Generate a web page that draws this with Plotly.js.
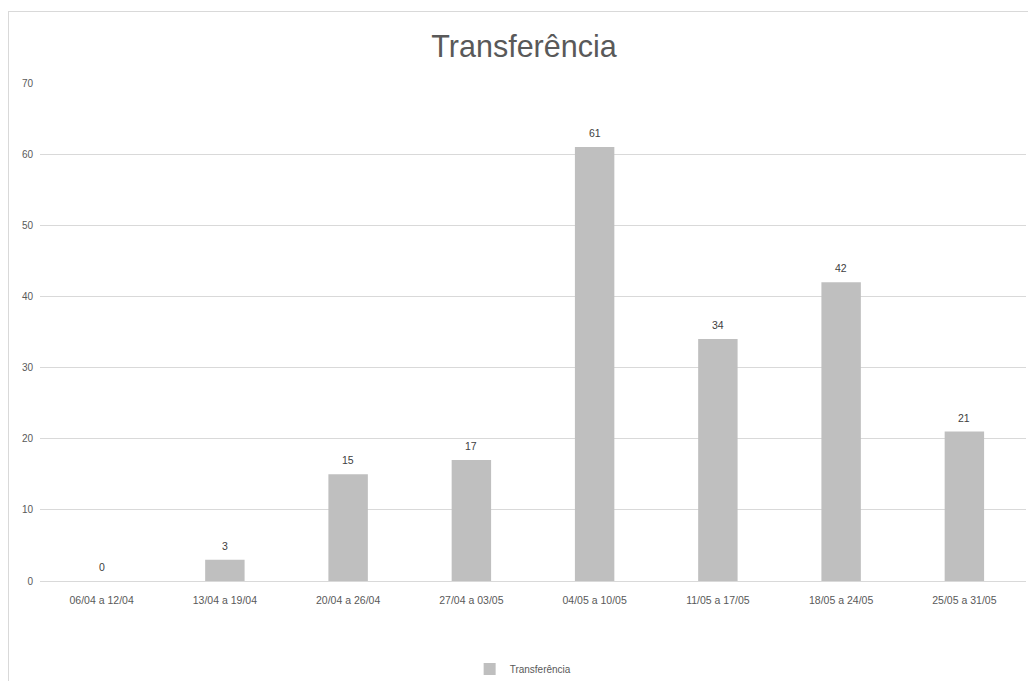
<!DOCTYPE html>
<html>
<head>
<meta charset="utf-8">
<script src="https://cdn.plot.ly/plotly-3.0.1.min.js"></script>
<style>
  html, body { margin: 0; padding: 0; background: #fff; }
  #chart { width: 1028px; height: 681px; }
  #frame {
    position: absolute; left: 8px; top: 11px; width: 1030px; height: 680px;
    border: 1px solid #d9d9d9; pointer-events: none;
  }
</style>
</head>
<body>
<div id="chart"></div>
<div id="frame"></div>
<script>
// Weekly counts of transfers
const semanas = [
  "06/04 a 12/04", "13/04 a 19/04", "20/04 a 26/04", "27/04 a 03/05",
  "04/05 a 10/05", "11/05 a 17/05", "18/05 a 24/05", "25/05 a 31/05"
];
const transferencias = [0, 3, 15, 17, 61, 34, 42, 21];
const nomeSerie = "Transferência";
const yTicks = [0, 10, 20, 30, 40, 50, 60, 70];

const fonte = "'Liberation Sans', Arial, sans-serif";

const trace = {
  type: "bar",
  x: semanas,
  y: transferencias,
  name: nomeSerie,
  marker: { color: "#bfbfbf" },
  hoverinfo: "x+y"
};

// value labels sitting above each bar
const rotulos = semanas.map((s, i) => ({
  x: s,
  y: transferencias[i],
  xref: "x",
  yref: "y",
  text: String(transferencias[i]),
  showarrow: false,
  yanchor: "middle",
  yshift: 14,
  font: { family: fonte, size: 10.5, color: "#404040" }
}));

const layout = {
  width: 1028,
  height: 681,
  margin: { l: 40, r: 2, t: 83, b: 100 },
  paper_bgcolor: "#ffffff",
  plot_bgcolor: "#ffffff",
  font: { family: fonte, color: "#595959", size: 11 },
  title: {
    text: "Transferência",
    font: { family: fonte, size: 30.5, color: "#595959" },
    xref: "container", x: 524 / 1028, xanchor: "center",
    yref: "container", y: 1 - 46 / 681, yanchor: "middle"
  },
  bargap: 0.68,
  xaxis: {
    type: "category",
    tickfont: { family: fonte, size: 10.5, color: "#595959" },
    showgrid: false,
    showline: true,
    linecolor: "#d9d9d9",
    linewidth: 1,
    ticks: "",
    ticklabelstandoff: 9,
    fixedrange: true
  },
  yaxis: {
    range: [0, 70],
    tickvals: yTicks,
    ticktext: yTicks.map(String),
    tickfont: { family: fonte, size: 10, color: "#595959" },
    showgrid: true,
    gridcolor: "#d9d9d9",
    gridwidth: 1,
    zeroline: false,
    showline: false,
    ticks: "",
    ticklabelstandoff: 6,
    fixedrange: true
  },
  annotations: rotulos,
  showlegend: true,
  legend: {
    orientation: "h",
    x: 0.49, xanchor: "center",
    yref: "container", y: 12 / 681, yanchor: "middle",
    font: { family: fonte, size: 10, color: "#595959" },
    itemwidth: 30
  }
};

Plotly.newPlot("chart", [trace], layout, { displayModeBar: false, staticPlot: true });
</script>
</body>
</html>
